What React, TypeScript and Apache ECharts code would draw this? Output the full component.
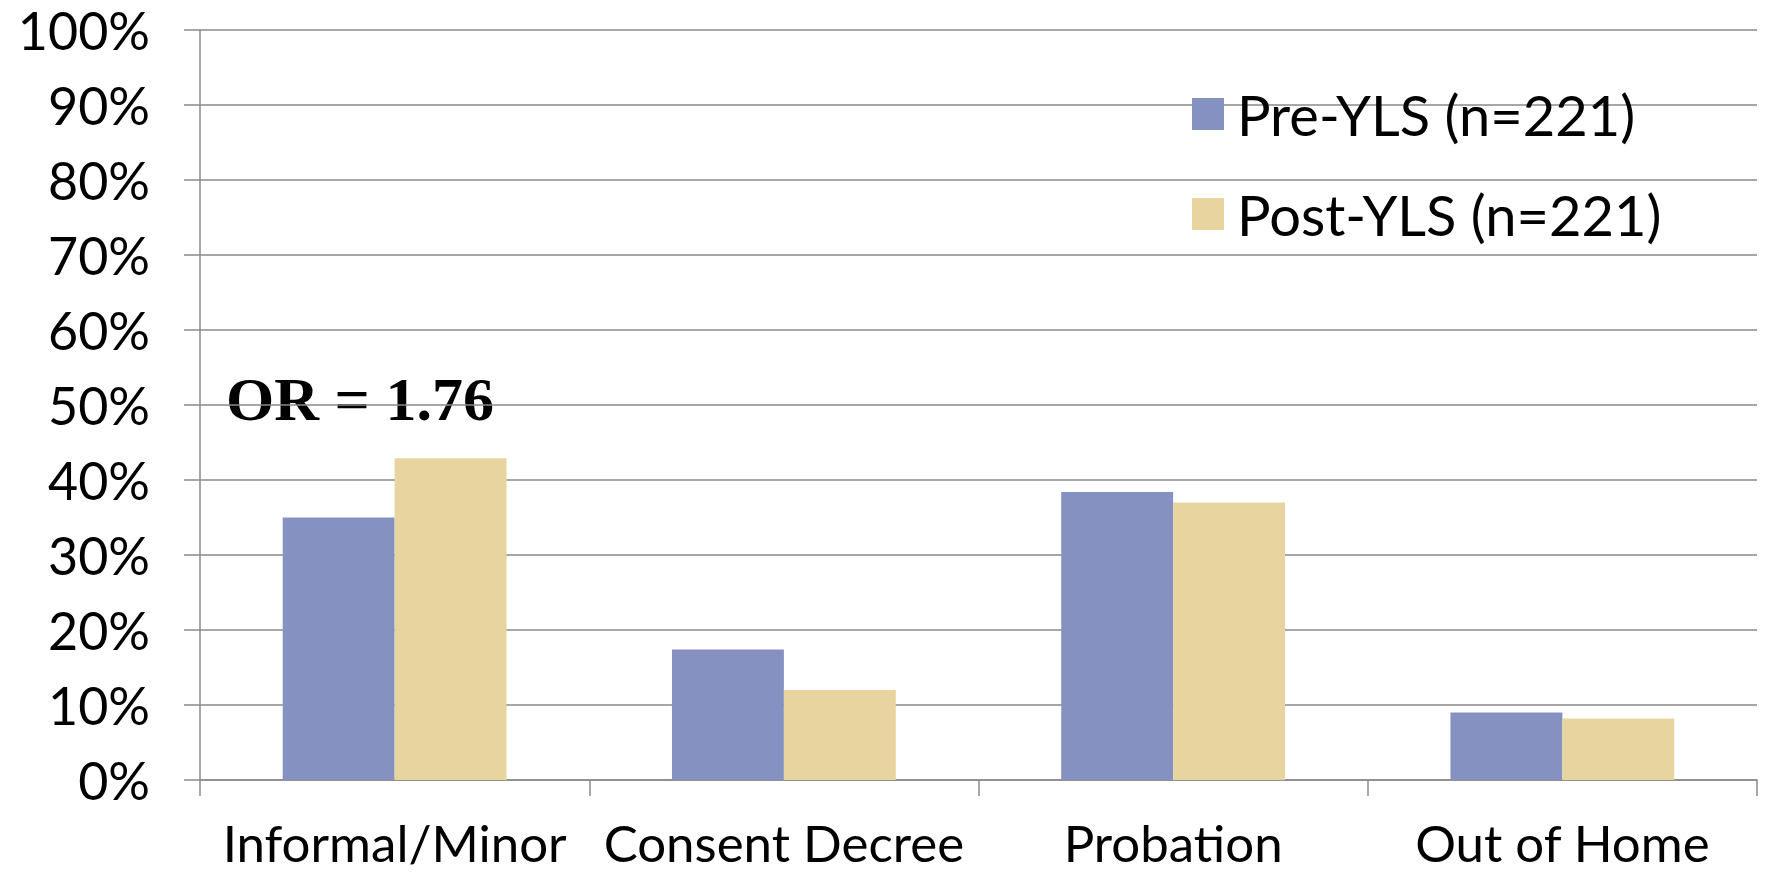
import React, { useEffect, useRef } from "react";
import * as echarts from "echarts";

const categories = ["Informal/Minor", "Consent Decree", "Probation", "Out of Home"];
const seriesNames = ["Pre-YLS (n=221)", "Post-YLS (n=221)"];
const preYLS = [35.0, 17.4, 38.4, 9.0];
const postYLS = [42.9, 12.0, 37.0, 8.2];
const yMin = 0;
const yMax = 100;
const yInterval = 10;
const annotationText = "OR = 1.76";

const FONT = "Lato, 'Open Sans', sans-serif";

export default function App() {
  const ref = useRef<HTMLDivElement>(null);

  useEffect(() => {
    if (!ref.current) return;
    const chart = echarts.init(ref.current, undefined, { renderer: "svg" });
    const gridColor = "#8a8a8a";
    chart.setOption({
      animation: false,
      backgroundColor: "#ffffff",
      textStyle: { fontFamily: FONT },
      grid: { left: 200, right: 9, top: 30, bottom: 93, containLabel: false },
      legend: {
        orient: "vertical",
        left: 1192,
        top: 86,
        padding: 0,
        itemWidth: 32,
        itemHeight: 32,
        itemGap: 44,
        icon: "rect",
        data: seriesNames,
        textStyle: {
          fontFamily: FONT,
          fontSize: 56,
          lineHeight: 54,
          color: "#000",
          padding: [0, 0, 0, 8],
        },
      },
      xAxis: {
        type: "category",
        data: categories,
        axisLine: { show: true, lineStyle: { color: gridColor, width: 1.5 } },
        axisTick: { show: true, length: 16, lineStyle: { color: gridColor, width: 1.5 } },
        axisLabel: {
          fontFamily: FONT,
          fontSize: 51,
          lineHeight: 51,
          color: "#000",
          margin: 37,
          interval: 0,
          overflow: "none",
        },
      },
      yAxis: {
        type: "value",
        min: yMin,
        max: yMax,
        interval: yInterval,
        axisLine: { show: true, lineStyle: { color: gridColor, width: 1.5 } },
        axisTick: { show: true, length: 16, lineStyle: { color: gridColor, width: 1.5 } },
        splitLine: { show: true, lineStyle: { color: gridColor, width: 1.5 } },
        axisLabel: {
          fontFamily: FONT,
          fontSize: 52,
          color: "#000",
          margin: 50,
          formatter: (v: number) => `${v}%`,
        },
      },
      series: [
        {
          name: seriesNames[0],
          type: "bar",
          data: preYLS,
          barGap: "0%",
          barCategoryGap: "42.5%",
          itemStyle: { color: "#8591c0" },
        },
        {
          name: seriesNames[1],
          type: "bar",
          data: postYLS,
          barGap: "0%",
          barCategoryGap: "42.5%",
          itemStyle: { color: "#e8d49e" },
        },
      ],
      graphic: [
        {
          type: "text",
          x: 360,
          y: 399,
          style: {
            text: annotationText,
            fontFamily: "'Liberation Serif', 'DejaVu Serif', serif",
            fontWeight: "bold",
            fontSize: 62,
            fill: "#000",
            textAlign: "center",
            textVerticalAlign: "middle",
          },
        },
      ],
    });
    return () => chart.dispose();
  }, []);

  return (
    <div
      ref={ref}
      style={{ position: "absolute", left: 0, top: 0, width: 1766, height: 873 }}
    />
  );
}
